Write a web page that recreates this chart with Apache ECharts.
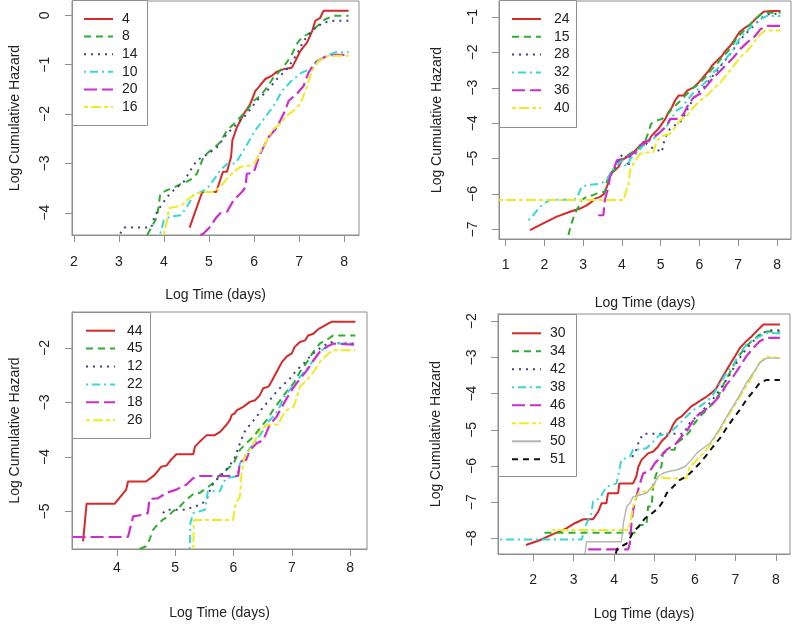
<!DOCTYPE html>
<html><head><meta charset="utf-8">
<script src="https://cdn.jsdelivr.net/npm/echarts@6/dist/echarts.min.js"></script>
<style>html,body{margin:0;padding:0;background:#fff}#c{width:796px;height:625px}</style>
</head><body><div id="c"></div>
<script>
// ---------- Panel 1 ----------
const p1Names = ['4','8','14','10','20','16'];
const p1XTicks = [2,3,4,5,6,7,8];
const p1YTicks = [0,-1,-2,-3,-4];
const s4 = [[4.57,-4.30],[4.81,-3.68],[4.85,-3.58],[5.16,-3.58],[5.31,-3.17],[5.40,-3.17],[5.49,-2.87],[5.52,-2.53],[5.62,-2.27],[5.77,-2.00],[5.92,-1.79],[6.03,-1.53],[6.10,-1.46],[6.25,-1.29],[6.40,-1.22],[6.51,-1.14],[6.66,-1.09],[6.84,-1.06],[6.92,-0.92],[7.03,-0.72],[7.18,-0.55],[7.29,-0.32],[7.36,-0.11],[7.47,-0.05],[7.54,0.09],[8.10,0.09]];
const s8 = [[3.63,-4.45],[3.85,-4.08],[3.92,-3.61],[4.07,-3.54],[4.18,-3.51],[4.37,-3.42],[4.51,-3.37],[4.62,-3.31],[4.73,-3.21],[4.88,-2.87],[4.99,-2.77],[5.10,-2.70],[5.25,-2.57],[5.40,-2.33],[5.55,-2.20],[5.70,-2.06],[5.84,-1.93],[5.99,-1.73],[6.14,-1.63],[6.29,-1.46],[6.43,-1.26],[6.58,-1.12],[6.73,-0.95],[6.84,-0.79],[6.95,-0.58],[7.06,-0.45],[7.25,-0.35],[7.40,-0.22],[7.58,-0.08],[7.77,-0.01],[8.10,-0.01]];
const s14 = [[3.03,-4.42],[3.12,-4.30],[3.72,-4.30],[3.80,-4.05],[3.92,-3.88],[4.07,-3.68],[4.22,-3.54],[4.44,-3.37],[4.59,-3.14],[4.73,-2.94],[4.99,-2.80],[5.18,-2.67],[5.40,-2.40],[5.62,-2.20],[5.84,-2.00],[6.06,-1.73],[6.29,-1.53],[6.51,-1.29],[6.73,-1.09],[6.95,-0.79],[7.10,-0.52],[7.32,-0.28],[7.54,-0.15],[7.77,-0.11],[8.10,-0.11]];
const s10 = [[3.92,-4.42],[4.00,-4.15],[4.14,-4.08],[4.37,-4.05],[4.51,-3.88],[4.66,-3.64],[4.81,-3.58],[4.96,-3.51],[5.10,-3.34],[5.25,-3.14],[5.40,-3.01],[5.59,-3.00],[5.81,-2.67],[6.03,-2.33],[6.25,-2.06],[6.47,-1.79],[6.62,-1.53],[6.84,-1.32],[7.06,-1.16],[7.25,-1.09],[7.40,-0.92],[7.62,-0.82],[7.80,-0.75],[8.10,-0.75]];
const s20 = [[4.81,-4.45],[4.88,-4.42],[5.03,-4.28],[5.16,-4.10],[5.25,-4.01],[5.40,-3.98],[5.55,-3.74],[5.73,-3.58],[5.81,-3.48],[5.84,-3.21],[5.99,-3.19],[6.14,-2.80],[6.32,-2.47],[6.51,-2.27],[6.69,-1.93],[6.77,-1.73],[6.95,-1.59],[7.10,-1.43],[7.21,-1.16],[7.36,-0.96],[7.58,-0.84],[7.80,-0.80],[8.10,-0.80]];
const s16 = [[4.00,-4.45],[4.07,-4.15],[4.11,-3.91],[4.25,-3.88],[4.40,-3.85],[4.51,-3.74],[4.66,-3.64],[4.85,-3.58],[5.10,-3.58],[5.25,-3.48],[5.40,-3.31],[5.55,-3.17],[5.70,-3.07],[5.92,-3.04],[6.03,-2.97],[6.15,-2.75],[6.25,-2.60],[6.40,-2.33],[6.62,-2.17],[6.69,-2.06],[6.88,-1.93],[7.03,-1.79],[7.14,-1.53],[7.29,-1.12],[7.43,-0.92],[7.65,-0.82],[8.10,-0.82]];

// ---------- Panel 2 ----------
const p2Names = ['24','15','28','32','36','40'];
const p2XTicks = [1,2,3,4,5,6,7,8];
const p2YTicks = [-1,-2,-3,-4,-5,-6,-7];
const s24 = [[1.63,-7.02],[1.97,-6.83],[2.32,-6.64],[2.66,-6.50],[2.92,-6.41],[3.09,-6.32],[3.22,-6.22],[3.31,-6.13],[3.44,-6.08],[3.54,-5.99],[3.61,-5.80],[3.65,-5.66],[3.71,-5.43],[3.82,-5.33],[3.91,-5.24],[4.00,-5.05],[4.06,-5.00],[4.21,-4.91],[4.30,-4.82],[4.43,-4.67],[4.56,-4.53],[4.69,-4.49],[4.77,-4.35],[4.86,-4.25],[4.94,-4.16],[5.03,-4.02],[5.12,-3.88],[5.20,-3.69],[5.29,-3.55],[5.37,-3.36],[5.46,-3.22],[5.59,-3.22],[5.68,-3.08],[5.85,-2.99],[5.98,-2.85],[6.06,-2.75],[6.15,-2.63],[6.24,-2.52],[6.32,-2.38],[6.41,-2.28],[6.49,-2.19],[6.58,-2.10],[6.67,-1.96],[6.79,-1.82],[6.88,-1.68],[6.97,-1.53],[7.05,-1.41],[7.18,-1.30],[7.31,-1.21],[7.40,-1.11],[7.53,-0.97],[7.66,-0.85],[7.83,-0.83],[8.09,-0.83]];
const s15 = [[2.62,-7.16],[2.70,-6.83],[2.79,-6.55],[2.88,-6.36],[2.96,-6.17],[3.09,-6.08],[3.26,-6.03],[3.44,-5.94],[3.57,-5.94],[3.61,-5.66],[3.68,-5.43],[3.78,-5.33],[3.87,-5.24],[3.95,-5.05],[4.08,-4.96],[4.21,-4.86],[4.34,-4.77],[4.47,-4.67],[4.60,-4.49],[4.69,-4.25],[4.75,-4.02],[4.90,-3.92],[5.03,-3.88],[5.16,-3.78],[5.29,-3.60],[5.42,-3.46],[5.55,-3.32],[5.68,-3.17],[5.80,-3.03],[5.93,-2.94],[6.06,-2.80],[6.19,-2.66],[6.32,-2.47],[6.45,-2.33],[6.58,-2.14],[6.71,-2.00],[6.84,-1.82],[6.97,-1.58],[7.10,-1.44],[7.23,-1.30],[7.35,-1.16],[7.48,-1.02],[7.61,-0.91],[7.74,-0.88],[8.09,-0.88]];
const s28 = [[3.70,-5.45],[3.80,-5.30],[3.95,-4.96],[4.04,-4.86],[4.12,-4.96],[4.17,-5.24],[4.21,-4.96],[4.38,-4.82],[4.51,-4.67],[4.64,-4.58],[4.81,-4.72],[4.94,-4.77],[5.03,-4.82],[5.07,-4.58],[5.16,-4.30],[5.24,-4.16],[5.42,-4.02],[5.55,-3.92],[5.63,-3.74],[5.76,-3.46],[5.93,-3.17],[6.11,-2.99],[6.28,-2.75],[6.45,-2.52],[6.62,-2.28],[6.79,-2.05],[6.97,-1.77],[7.14,-1.53],[7.31,-1.35],[7.48,-1.16],[7.66,-0.97],[7.83,-0.91],[8.09,-0.91]];
const s32 = [[1.59,-6.74],[1.71,-6.60],[1.89,-6.36],[2.06,-6.22],[2.15,-6.17],[2.32,-6.16],[2.66,-6.16],[2.83,-6.13],[2.96,-5.80],[3.09,-5.75],[3.44,-5.71],[3.61,-5.61],[3.74,-5.33],[3.87,-5.19],[4.00,-5.05],[4.08,-5.19],[4.17,-5.19],[4.21,-5.00],[4.38,-4.86],[4.51,-4.67],[4.69,-4.53],[4.81,-4.44],[4.99,-4.25],[5.16,-4.07],[5.29,-3.83],[5.42,-3.64],[5.55,-3.55],[5.68,-3.36],[5.85,-3.13],[6.02,-2.99],[6.19,-2.80],[6.36,-2.57],[6.54,-2.38],[6.71,-2.14],[6.88,-1.91],[7.05,-1.58],[7.23,-1.39],[7.40,-1.21],[7.57,-1.07],[7.74,-0.97],[8.09,-0.97]];
const s36 = [[3.39,-6.60],[3.52,-6.60],[3.56,-6.17],[3.65,-5.80],[3.69,-5.52],[3.78,-5.33],[3.87,-5.05],[3.91,-5.00],[4.04,-5.00],[4.21,-4.91],[4.34,-4.82],[4.47,-4.63],[4.64,-4.53],[4.81,-4.39],[4.99,-4.25],[5.16,-4.07],[5.24,-3.88],[5.46,-3.88],[5.59,-3.74],[5.72,-3.46],[5.85,-3.27],[6.02,-3.17],[6.19,-2.94],[6.36,-2.71],[6.54,-2.52],[6.71,-2.33],[6.88,-2.14],[7.05,-1.91],[7.23,-1.72],[7.40,-1.58],[7.57,-1.35],[7.74,-1.25],[8.09,-1.25]];
const s40 = [[0.83,-6.17],[4.04,-6.17],[4.17,-5.71],[4.21,-5.33],[4.30,-5.14],[4.47,-4.86],[4.69,-4.82],[4.81,-4.82],[4.90,-4.49],[5.07,-4.35],[5.24,-4.30],[5.37,-4.11],[5.50,-3.92],[5.68,-3.78],[5.85,-3.55],[6.02,-3.36],[6.19,-3.22],[6.36,-3.03],[6.54,-2.85],[6.71,-2.61],[6.88,-2.38],[7.05,-2.14],[7.23,-1.96],[7.40,-1.72],[7.57,-1.49],[7.70,-1.38],[8.09,-1.38]];

// ---------- Panel 3 ----------
const p3Names = ['44','45','12','22','18','26'];
const p3XTicks = [4,5,6,7,8];
const p3YTicks = [-2,-3,-4,-5];
const s44 = [[3.42,-5.55],[3.48,-4.86],[3.96,-4.86],[4.16,-4.60],[4.19,-4.45],[4.50,-4.45],[4.65,-4.33],[4.76,-4.18],[4.85,-4.16],[4.93,-4.05],[5.02,-3.95],[5.31,-3.95],[5.34,-3.81],[5.42,-3.72],[5.54,-3.60],[5.68,-3.60],[5.77,-3.54],[5.88,-3.41],[5.94,-3.32],[5.97,-3.23],[6.02,-3.20],[6.06,-3.14],[6.17,-3.08],[6.28,-2.99],[6.37,-2.96],[6.45,-2.87],[6.51,-2.74],[6.60,-2.71],[6.65,-2.62],[6.74,-2.44],[6.83,-2.26],[6.91,-2.16],[7.00,-2.10],[7.05,-1.98],[7.14,-1.89],[7.23,-1.86],[7.28,-1.77],[7.37,-1.74],[7.46,-1.65],[7.51,-1.62],[7.63,-1.55],[7.68,-1.52],[8.09,-1.52]];
const s45 = [[4.39,-5.69],[4.50,-5.64],[4.56,-5.52],[4.62,-5.34],[4.70,-5.24],[4.79,-5.15],[4.88,-5.09],[4.96,-5.00],[5.08,-4.91],[5.16,-4.82],[5.25,-4.73],[5.34,-4.66],[5.42,-4.66],[5.54,-4.57],[5.65,-4.48],[5.77,-4.33],[5.88,-4.24],[6.00,-4.12],[6.11,-3.87],[6.22,-3.75],[6.34,-3.63],[6.45,-3.48],[6.57,-3.32],[6.68,-3.14],[6.80,-2.96],[6.91,-2.80],[7.03,-2.65],[7.14,-2.44],[7.26,-2.26],[7.37,-2.07],[7.48,-1.92],[7.63,-1.83],[7.71,-1.77],[8.09,-1.77]];
const s12 = [[4.79,-5.03],[4.85,-4.97],[5.19,-4.97],[5.30,-4.92],[5.42,-4.88],[5.51,-4.82],[5.56,-4.73],[5.62,-4.54],[5.71,-4.42],[5.82,-4.30],[5.94,-4.15],[6.02,-4.02],[6.11,-3.75],[6.19,-3.54],[6.28,-3.41],[6.40,-3.26],[6.51,-3.08],[6.62,-2.96],[6.74,-2.80],[6.85,-2.68],[6.97,-2.56],[7.08,-2.41],[7.20,-2.29],[7.31,-2.16],[7.43,-2.04],[7.54,-1.97],[7.66,-1.89],[7.77,-1.91],[8.09,-1.92]];
const s22 = [[5.25,-5.69],[5.26,-5.21],[5.31,-5.03],[5.51,-4.97],[5.56,-4.63],[5.77,-4.63],[5.82,-4.48],[5.88,-4.39],[6.05,-4.36],[6.11,-4.12],[6.19,-3.99],[6.28,-3.84],[6.40,-3.69],[6.51,-3.51],[6.57,-3.38],[6.68,-3.26],[6.77,-3.14],[6.85,-2.93],[6.94,-2.80],[7.03,-2.68],[7.14,-2.53],[7.26,-2.38],[7.37,-2.23],[7.48,-2.07],[7.63,-1.95],[7.71,-1.92],[8.09,-1.92]];
const s18 = [[3.24,-5.47],[4.19,-5.47],[4.28,-5.09],[4.45,-5.06],[4.53,-5.03],[4.56,-4.77],[4.70,-4.76],[4.85,-4.66],[5.02,-4.60],[5.19,-4.51],[5.31,-4.39],[5.42,-4.35],[6.08,-4.35],[6.11,-4.09],[6.22,-4.05],[6.28,-3.87],[6.40,-3.75],[6.51,-3.69],[6.57,-3.54],[6.62,-3.41],[6.74,-3.26],[6.83,-3.08],[6.91,-2.93],[7.00,-2.77],[7.08,-2.65],[7.17,-2.53],[7.26,-2.41],[7.37,-2.23],[7.48,-2.07],[7.60,-1.98],[7.71,-1.92],[8.09,-1.94]];
const s26 = [[5.31,-5.69],[5.32,-5.16],[5.99,-5.16],[6.04,-4.85],[6.11,-4.73],[6.14,-4.30],[6.19,-3.99],[6.25,-3.93],[6.34,-3.75],[6.45,-3.54],[6.57,-3.41],[6.77,-3.41],[6.83,-3.26],[6.91,-3.14],[7.03,-3.08],[7.08,-2.93],[7.14,-2.71],[7.26,-2.59],[7.37,-2.44],[7.48,-2.26],[7.60,-2.13],[7.71,-2.04],[8.09,-2.04]];

// ---------- Panel 4 ----------
const p4Names = ['30','34','42','38','46','48','50','51'];
const p4XTicks = [2,3,4,5,6,7,8];
const p4YTicks = [-2,-3,-4,-5,-6,-7,-8];
const s30 = [[1.82,-8.18],[2.16,-8.05],[2.49,-7.88],[2.82,-7.72],[3.03,-7.58],[3.24,-7.47],[3.48,-7.47],[3.61,-7.26],[3.69,-7.03],[3.81,-7.03],[3.85,-6.75],[4.10,-6.75],[4.13,-6.48],[4.47,-6.48],[4.55,-6.29],[4.60,-6.02],[4.68,-5.83],[4.76,-5.74],[4.84,-5.65],[4.97,-5.60],[5.09,-5.46],[5.17,-5.32],[5.30,-5.18],[5.38,-5.05],[5.46,-4.86],[5.54,-4.72],[5.67,-4.63],[5.79,-4.49],[5.91,-4.35],[6.04,-4.26],[6.16,-4.17],[6.29,-4.08],[6.41,-3.98],[6.53,-3.85],[6.62,-3.66],[6.74,-3.43],[6.86,-3.20],[6.99,-2.97],[7.11,-2.74],[7.27,-2.55],[7.40,-2.42],[7.52,-2.28],[7.69,-2.09],[8.10,-2.09]];
const s34 = [[2.28,-7.84],[4.51,-7.84],[4.64,-7.63],[4.80,-7.63],[4.84,-7.12],[4.93,-7.12],[4.97,-6.48],[5.05,-6.20],[5.17,-6.02],[5.21,-5.65],[5.38,-5.55],[5.50,-5.55],[5.54,-5.37],[5.71,-5.23],[5.87,-5.05],[5.96,-4.86],[6.12,-4.63],[6.29,-4.45],[6.45,-4.26],[6.62,-3.98],[6.74,-3.66],[6.86,-3.43],[6.99,-3.15],[7.11,-2.92],[7.27,-2.69],[7.44,-2.51],[7.60,-2.37],[7.77,-2.28],[8.10,-2.28]];
const s42 = [[4.45,-5.75],[4.55,-5.55],[4.62,-5.30],[4.72,-5.11],[5.71,-5.11],[5.87,-4.82],[6.04,-4.63],[6.20,-4.45],[6.37,-4.26],[6.53,-4.03],[6.70,-3.75],[6.86,-3.48],[7.03,-3.15],[7.19,-2.88],[7.36,-2.65],[7.52,-2.46],[7.69,-2.32],[7.85,-2.25],[8.10,-2.25]];
const s38 = [[1.18,-8.03],[3.20,-8.03],[3.32,-7.58],[3.44,-7.31],[3.48,-6.98],[3.65,-6.89],[3.81,-6.57],[4.06,-6.48],[4.18,-5.83],[4.39,-5.74],[4.47,-5.55],[4.64,-5.54],[4.80,-5.51],[4.97,-5.32],[5.13,-5.14],[5.30,-5.14],[5.46,-5.00],[5.63,-4.82],[5.79,-4.63],[5.96,-4.45],[6.12,-4.35],[6.29,-4.22],[6.45,-4.03],[6.62,-3.71],[6.78,-3.43],[6.95,-3.20],[7.11,-2.88],[7.27,-2.65],[7.44,-2.51],[7.60,-2.42],[7.77,-2.32],[8.10,-2.34]];
const s46 = [[3.36,-8.30],[4.35,-8.30],[4.39,-8.14],[4.43,-7.58],[4.47,-7.22],[4.55,-6.85],[4.64,-6.48],[4.72,-6.20],[4.88,-6.15],[5.01,-5.92],[5.09,-5.83],[5.21,-5.65],[5.30,-5.55],[5.42,-5.46],[5.54,-5.37],[5.67,-5.18],[5.79,-5.05],[5.91,-4.82],[6.04,-4.63],[6.20,-4.49],[6.37,-4.35],[6.53,-4.17],[6.66,-3.98],[6.78,-3.75],[6.95,-3.52],[7.11,-3.25],[7.27,-2.97],[7.44,-2.74],[7.60,-2.55],[7.77,-2.46],[8.10,-2.46]];
const s48 = [[2.45,-7.77],[4.35,-7.77],[4.43,-7.40],[4.47,-7.12],[4.55,-6.85],[4.64,-6.71],[4.84,-6.71],[4.97,-6.57],[5.09,-6.29],[5.30,-6.34],[5.79,-6.34],[5.87,-6.02],[6.00,-5.88],[6.12,-5.74],[6.24,-5.60],[6.37,-5.42],[6.49,-5.23],[6.62,-5.00],[6.74,-4.77],[6.86,-4.54],[6.99,-4.31],[7.11,-4.08],[7.27,-3.80],[7.44,-3.48],[7.60,-3.15],[7.77,-2.97],[8.10,-3.02]];
const s50 = [[3.28,-8.43],[3.32,-8.09],[4.18,-8.09],[4.23,-7.58],[4.31,-7.12],[4.39,-7.03],[4.47,-6.85],[4.64,-6.80],[4.80,-6.75],[4.97,-6.52],[5.09,-6.29],[5.21,-6.20],[5.34,-6.15],[5.54,-6.11],[5.75,-6.02],[5.91,-5.83],[6.04,-5.65],[6.20,-5.51],[6.37,-5.37],[6.49,-5.18],[6.62,-4.95],[6.74,-4.72],[6.86,-4.49],[6.99,-4.26],[7.11,-4.03],[7.27,-3.71],[7.44,-3.43],[7.60,-3.15],[7.77,-3.02],[8.10,-3.02]];
const s51 = [[4.04,-8.42],[4.08,-8.28],[4.31,-8.14],[4.39,-8.00],[4.47,-7.82],[4.60,-7.68],[4.76,-7.45],[4.93,-7.31],[5.09,-7.17],[5.21,-6.98],[5.30,-6.75],[5.46,-6.57],[5.63,-6.38],[5.79,-6.29],[5.96,-6.11],[6.12,-5.92],[6.29,-5.69],[6.45,-5.46],[6.62,-5.23],[6.78,-4.95],[6.95,-4.68],[7.11,-4.45],[7.27,-4.17],[7.44,-3.94],[7.60,-3.71],[7.77,-3.62],[8.10,-3.62]];

const xTitle = 'Log Time (days)';
const yTitle = 'Log Cumulative Hazard';

// ---------- styling / layout ----------
const FONT = "'Liberation Sans', Arial, sans-serif";
const TXT = '#222';
const BOX = '#8f8f8f';
const STY = [
  {color:'#d42a2a', type:'solid', width:2},
  {color:'#2eae2e', type:[7,5], width:2},
  {color:'#40408c', type:[2,5], width:2},
  {color:'#3ad6d6', type:[2,4,8,4], width:2},
  {color:'#cc2ecc', type:[13,5], width:2.2},
  {color:'#ecec22', type:[4,3,10,3], width:2},
  {color:'#b4b4b4', type:'solid', width:1.4},
  {color:'#111111', type:[6,5], width:2}
];
const panels = [
  {names:p1Names, data:[s4,s8,s14,s10,s20,s16], xt:p1XTicks, yt:p1YTicks,
   g:{left:72,top:1,width:287,height:234}, xr:[1.96,8.33], yr:[-4.45,0.29],
   xm:20, xg:53, ym:20, yg:50,
   leg:{x:83,top:12,gap:3.6,tp:4}, box:[72,0,75,125]},
  {names:p2Names, data:[s24,s15,s28,s32,s36,s40], xt:p2XTicks, yt:p2YTicks,
   g:{left:499,top:1,width:292,height:238}, xr:[0.83,8.36], yr:[-7.27,-0.55],
   xm:19, xg:57, ym:19, yg:55,
   leg:{x:511,top:12,gap:3.8,tp:8}, box:[499,0,77,127]},
  {names:p3Names, data:[s44,s45,s12,s22,s18,s26], xt:p3XTicks, yt:p3YTicks,
   g:{left:72,top:312,width:295,height:237}, xr:[3.23,8.29], yr:[-5.69,-1.34],
   xm:12, xg:57, ym:20, yg:50,
   leg:{x:85,top:323.7,gap:3.9,tp:7}, box:[72,312,78,126]},
  {names:p4Names, data:[s30,s34,s42,s38,s46,s48,s50,s51], xt:p4XTicks, yt:p4YTicks,
   g:{left:498,top:314,width:292,height:240}, xr:[1.13,8.35], yr:[-8.43,-1.80],
   xm:19, xg:53, ym:19, yg:55,
   leg:{x:511,top:326.3,gap:4,tp:4}, box:[498,314,78,162]}
];

const option = {backgroundColor:'#fff', animation:false, grid:[], xAxis:[], yAxis:[], series:[], legend:[], graphic:[]};
panels.forEach((p,i)=>{
  option.grid.push(Object.assign({show:true, borderColor:BOX, borderWidth:1, backgroundColor:'transparent'}, p.g));
  option.xAxis.push({gridIndex:i, type:'value', min:p.xr[0], max:p.xr[1], position:'bottom',
    axisLine:{show:true, onZero:false, lineStyle:{color:BOX, width:1}}, splitLine:{show:false},
    axisTick:{show:true, customValues:p.xt, length:7, lineStyle:{color:BOX}},
    axisLabel:{customValues:p.xt, margin:p.xm, fontSize:14, color:TXT, fontFamily:FONT},
    name:xTitle, nameLocation:'middle', nameGap:p.xg, nameTextStyle:{fontSize:14, color:TXT, fontFamily:FONT}});
  option.yAxis.push({gridIndex:i, type:'value', min:p.yr[0], max:p.yr[1], position:'left',
    axisLine:{show:true, onZero:false, lineStyle:{color:BOX, width:1}}, splitLine:{show:false},
    axisTick:{show:true, customValues:p.yt, length:7, lineStyle:{color:BOX}},
    axisLabel:{customValues:p.yt, rotate:90, margin:p.ym, fontSize:14, color:TXT, fontFamily:FONT,
      formatter:v=>String(v).replace('-','\u2212')},
    name:yTitle, nameLocation:'middle', nameGap:p.yg, nameRotate:90, nameTextStyle:{fontSize:14, color:TXT, fontFamily:FONT}});
  p.names.forEach((n,k)=>{
    const st = STY[k];
    option.series.push({type:'line', name:n, xAxisIndex:i, yAxisIndex:i, data:p.data[k],
      symbol:'none', showSymbol:false, clip:true, z:2,
      lineStyle:{color:st.color, type:st.type, width:st.width}, itemStyle:{color:st.color}});
  });
  option.legend.push({data:p.names, orient:'vertical', left:p.leg.x, top:p.leg.top, padding:0, z:10,
    itemWidth:29, itemHeight:14, itemGap:p.leg.gap, selectedMode:false,
    itemStyle:{opacity:0, borderWidth:0},
    textStyle:{fontSize:14, color:TXT, fontFamily:FONT, lineHeight:14, padding:[0,0,0,p.leg.tp]}});
  option.graphic.push({type:'rect', shape:{x:p.box[0]+0.5, y:p.box[1]+0.5, width:p.box[2], height:p.box[3]},
    style:{fill:'#fff', stroke:BOX, lineWidth:1}, z:5});
});
const chart = echarts.init(document.getElementById('c'), null, {renderer:'canvas'});
chart.setOption(option);
</script></body></html>
